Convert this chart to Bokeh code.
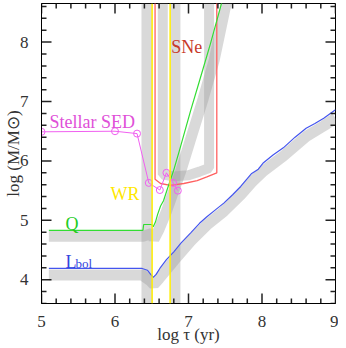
import numpy as np
from bokeh.plotting import figure
from bokeh.models import SingleIntervalTicker, Span, Range1d
from bokeh.core.properties import value
from bokeh.embed import file_html
from bokeh.resources import INLINE

FONT = "Liberation Serif"
X_RANGE = (5.0, 9.0)
Y_RANGE = (3.6, 8.65)
FRAME_W, FRAME_H = 294, 300

# --- ionizing photons Q ---
q_age = [5.1, 6.38, 6.39, 6.50, 6.52, 6.55, 6.58, 6.62, 6.66, 6.71, 6.80, 6.88, 7.03, 7.15, 7.30, 7.46]
q_mass = [4.83, 4.83, 4.93, 4.93, 4.89, 4.97, 5.10, 5.24, 5.33, 5.52, 5.85, 6.19, 6.85, 7.35, 7.98, 8.70]
q_sh_age = [5.1, 6.38, 6.50, 6.53, 6.60, 6.70, 6.80, 6.90, 7.05, 7.20, 7.35, 7.52]
q_sh_mass = [4.73, 4.73, 4.78, 4.68, 4.85, 5.15, 5.50, 5.85, 6.45, 7.05, 7.70, 8.70]

# --- bolometric luminosity ---
l_age = [5.1, 6.37, 6.44, 6.48, 6.52, 6.56, 6.62, 6.70, 6.80, 6.90, 7.03, 7.15, 7.25, 7.37,
         7.48, 7.60, 7.71, 7.86, 7.95, 8.02, 8.15, 8.29, 8.45, 8.60, 8.72, 8.84, 9.0]
l_mass = [4.19, 4.19, 4.16, 4.10, 4.04, 4.09, 4.21, 4.34, 4.47, 4.62, 4.79, 4.95, 5.06, 5.18,
          5.29, 5.43, 5.57, 5.79, 5.86, 5.97, 6.10, 6.22, 6.40, 6.55, 6.63, 6.72, 6.86]
l_sh_age = [5.1, 6.37, 6.48, 6.53, 6.60, 6.80, 7.03, 7.25, 7.48, 7.71, 7.86, 8.02, 8.29, 8.60, 8.84, 9.0]
l_sh_mass = [4.08, 4.08, 3.98, 3.92, 4.02, 4.32, 4.65, 4.92, 5.15, 5.43, 5.64, 5.83, 6.08, 6.41, 6.59, 6.72]

# --- SNe ---
sne_age = [6.545, 6.545, 6.62, 6.755, 6.936, 7.118, 7.25, 7.385, 7.385]
sne_mass = [8.80, 5.69, 5.62, 5.59, 5.62, 5.67, 5.73, 5.80, 8.80]
sne_sh_age = [6.65, 6.65, 6.80, 7.00, 7.15, 7.28, 7.28]
sne_sh_mass = [8.80, 5.77, 5.74, 5.76, 5.82, 5.88, 8.80]

# --- WR ---
wr_age = [6.505, 6.75]
wr_band_left = [6.36, 6.755]
wr_band_right = [6.505, 6.89]

# --- Stellar SED ---
sed_age = [5.0, 6.0, 6.30, 6.46, 6.61, 6.70, 6.79, 6.855]
sed_mass = [6.49, 6.50, 6.46, 5.63, 5.51, 5.80, 5.63, 5.50]

# --- labels ---
lab_text = ["Stellar SED", "SNe", "WR", "Q", "L"]
lab_x = [5.109, 6.765, 5.94, 5.327, 5.327]
lab_y = [6.66, 7.91, 5.44, 4.935, 4.305]
lab_col = ["#e050d8", "#c83a2a", "#ffe800", "#22cc22", "#3344dd"]
sub_text = ["bol"]
sub_x = [5.463]
sub_y = [4.27]

GREEN = "#33dd33"
BLUE = "#4455ee"
RED = "#ff6060"
MAG = "#f060f0"
YEL = "#ffee00"
SHADE = "#9a9a9a"
TICK = "#222222"

p = figure(frame_width=FRAME_W, frame_height=FRAME_H, x_range=Range1d(*X_RANGE), y_range=Range1d(*Y_RANGE),
           output_backend="svg", toolbar_location=None,
           min_border_left=35, min_border_right=3, min_border_top=3, min_border_bottom=34)
p.outline_line_color = "black"
p.grid.visible = False
p.background_fill_color = "white"
p.border_fill_color = "white"

# shaded uncertainty regions
p.quad(left=wr_band_left, right=wr_band_right, bottom=Y_RANGE[0], top=Y_RANGE[1],
       fill_color=SHADE, fill_alpha=0.38, line_color=None)
p.line(q_sh_age, q_sh_mass, line_color=SHADE, line_alpha=0.38, line_width=11)
p.line(l_sh_age, l_sh_mass, line_color=SHADE, line_alpha=0.38, line_width=11)
p.line(sne_sh_age, sne_sh_mass, line_color=SHADE, line_alpha=0.38, line_width=10)

# curves
p.line(sne_age, sne_mass, line_color=RED, line_width=1.3)
p.line(q_age, q_mass, line_color=GREEN, line_width=1.2)
p.line(l_age, l_mass, line_color=BLUE, line_width=1.2)
p.line(sed_age, sed_mass, line_color=MAG, line_width=1.0)
p.scatter(sed_age, sed_mass, marker="circle", size=7, fill_color=None, line_color=MAG, line_width=1.0)
for a in wr_age:
    p.add_layout(Span(location=a, dimension="height", line_color=YEL, line_width=1.5))

p.text(lab_x, lab_y, text=lab_text, text_color=lab_col, text_font=value(FONT),
       text_font_size="18px", text_baseline="alphabetic", text_align="left")
p.text(sub_x, sub_y, text=sub_text, text_color="#3344dd", text_font=value(FONT),
       text_font_size="13px", text_baseline="alphabetic", text_align="left")

# inward ticks on all four sides (mirrored), lengths converted from pixels to data units
px_x = (X_RANGE[1] - X_RANGE[0]) / FRAME_W
px_y = (Y_RANGE[1] - Y_RANGE[0]) / FRAME_H
x_major = np.arange(X_RANGE[0], X_RANGE[1] + 1e-6, 1.0)
x_minor = np.array([v for v in np.arange(X_RANGE[0], X_RANGE[1] + 1e-6, 0.2) if abs(v - round(v)) > 1e-6])
y_major = np.arange(4.0, 8.0 + 1e-6, 1.0)
y_minor = np.array([v for v in np.arange(3.6, Y_RANGE[1], 0.2) if abs(v - round(v)) > 1e-6])

for xs, ln in ((x_major, 10), (x_minor, 5)):
    p.segment(x0=xs, y0=Y_RANGE[0], x1=xs, y1=Y_RANGE[0] + ln * px_y, line_color=TICK, line_width=1.5)
    p.segment(x0=xs, y0=Y_RANGE[1], x1=xs, y1=Y_RANGE[1] - ln * px_y, line_color=TICK, line_width=1.5)
for ys, ln in ((y_major, 10), (y_minor, 5)):
    p.segment(x0=X_RANGE[0], y0=ys, x1=X_RANGE[0] + ln * px_x, y1=ys, line_color=TICK, line_width=1.5)
    p.segment(x0=X_RANGE[1], y0=ys, x1=X_RANGE[1] - ln * px_x, y1=ys, line_color=TICK, line_width=1.5)

for ax in (p.xaxis[0], p.yaxis[0]):
    ax.ticker = SingleIntervalTicker(interval=1, num_minor_ticks=5)
    ax.major_tick_line_color = None
    ax.minor_tick_line_color = None
    ax.axis_line_color = "black"
    ax.major_label_text_font = FONT
    ax.major_label_text_font_size = "17px"
    ax.major_label_text_color = "#333333"
    ax.axis_label_text_font = FONT
    ax.axis_label_text_font_size = "17px"
    ax.axis_label_text_font_style = "normal"
    ax.axis_label_text_color = "#333333"

p.xaxis[0].major_label_standoff = 6
p.xaxis[0].axis_label_standoff = -5
p.yaxis[0].major_label_standoff = 7
p.yaxis[0].axis_label_standoff = -6
p.xaxis[0].axis_label = "log τ (yr)"
p.yaxis[0].axis_label = "log (M/M\u2299)"

open("out.html", "w").write(file_html(p, INLINE))
